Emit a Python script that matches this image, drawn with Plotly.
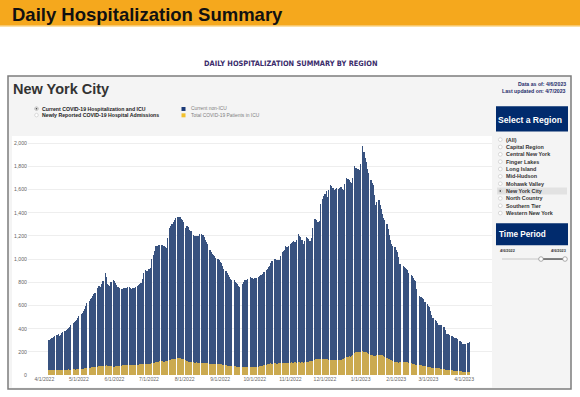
import plotly.graph_objects as go
import pandas as pd

# ---------------- data ----------------
start_date = "2022-04-05"
# daily totals (ICU + non-ICU); None = day without a bar (weekly gap)
total_hospitalized = [
    305, 312, 318, 320, 326, 334, None,
    345, 352, 340, 344, 365, 372, None,
    385, 392, 398, 405, 420, 435, None,
    448, 458, 470, 478, 492, 508, None,
    525, 540, 556, 575, 598, 622, None,
    640, 655, 668, 680, 698, 712, None,
    748, 768, 772, 764, 790, 810, None,
    885, 850, 790, 778, 770, 800, None,
    820, 812, 796, 780, 765, 752, None,
    745, 740, 750, 748, 755, 758, None,
    762, 750, 745, 748, 756, 762, None,
    772, 780, 788, 795, 830, 880, None,
    910, 900, 895, 915, 925, 1000, None,
    1040, 1075, 1110, 1115, 1120, 1125, None,
    1122, 1120, 1115, 1105, 1100, 1180, None,
    1270, 1285, 1300, 1320, 1340, 1355, None,
    1362, 1368, 1365, 1350, 1335, 1325, None,
    1270, 1285, 1278, 1250, 1246, 1243, None,
    1210, 1197, 1203, 1200, 1197, 1215, None,
    1220, 1205, 1191, 1170, 1150, 1134, None,
    1076, 1060, 1042, 1033, 1025, 1015, None,
    1005, 996, 980, 967, 940, 918, None,
    895, 880, 866, 846, 832, 825, None,
    817, 803, 795, 783, 770, 760, None,
    789, 800, 817, 820, 823, 830, None,
    846, 842, 838, 832, 835, 840, None,
    846, 855, 860, 865, 869, 889, None,
    909, 918, 932, 945, 967, 985, None,
    1004, 1000, 996, 993, 990, 1030, None,
    1062, 1075, 1082, 1111, 1105, 1115, None,
    1128, 1140, 1150, 1157, 1151, 1165, None,
    1214, 1200, 1191, 1163, 1128, 1160, None,
    1191, 1184, 1177, 1157, 1186, 1270, None,
    1350, 1345, 1341, 1321, 1330, 1480, None,
    1522, 1545, 1560, 1589, 1537, 1600, None,
    1638, 1630, 1617, 1600, 1610, 1617, None,
    1609, 1615, 1623, 1605, 1594, 1650, None,
    1703, 1695, 1686, 1666, 1658, 1700, None,
    1801, 1790, 1781, 1775, 1767, 1820, None,
    1974, 1925, 1876, 1839, 1781, 1740, None,
    1686, 1660, 1638, 1551, 1465, 1490, None,
    1508, 1470, 1436, 1393, 1360, 1335, None,
    1301, 1263, 1210, 1163, 1128, 1115, None,
    1105, 1080, 1062, 1019, 961, 955, None,
    945, 932, 925, 918, 903, 880, None,
    860, 852, 835, 817, 812, 745, None,
    679, 676, 673, 665, 659, 635, None,
    610, 595, 587, 553, 515, 495, None,
    478, 465, 449, 437, 429, 429, None,
    420, 414, 386, 357, 355, 351, None,
    340, 334, 328, 325, 322, 310, None,
    299, 294, 285, 271, 271, 271, None,
    276, 280, 285,
]
icu_patients = [
    46, 45, 44, 44, 43, 44, None,
    44, 45, 46, 47, 48, 47, None,
    48, 47, 49, 50, 48, 49, None,
    50, 51, 49, 52, 53, 51, None,
    54, 55, 57, 58, 60, 62, None,
    64, 66, 68, 70, 72, 74, None,
    75, 78, 76, 80, 82, 81, None,
    83, 85, 82, 80, 78, 76, None,
    72, 74, 76, 78, 80, 79, None,
    82, 84, 86, 85, 88, 90, None,
    88, 86, 89, 91, 90, 88, None,
    90, 92, 94, 93, 95, 96, None,
    95, 97, 98, 96, 99, 101, None,
    104, 108, 112, 115, 118, 120, None,
    120, 122, 118, 121, 124, 126, None,
    128, 132, 136, 138, 140, 142, None,
    145, 148, 146, 143, 140, 138, None,
    130, 124, 118, 115, 112, 110, None,
    110, 108, 111, 109, 107, 108, None,
    106, 104, 103, 102, 104, 101, None,
    100, 98, 99, 97, 96, 98, None,
    97, 96, 95, 93, 92, 90, None,
    85, 82, 80, 79, 78, 80, None,
    78, 76, 75, 74, 73, 72, None,
    72, 70, 71, 73, 72, 74, None,
    73, 72, 74, 75, 73, 72, None,
    74, 76, 78, 80, 82, 85, None,
    90, 94, 97, 100, 102, 100, None,
    101, 103, 100, 98, 102, 104, None,
    104, 106, 103, 105, 107, 106, None,
    108, 110, 107, 109, 111, 108, None,
    110, 112, 109, 111, 108, 110, None,
    112, 115, 118, 120, 122, 126, None,
    132, 136, 138, 140, 142, 140, None,
    138, 140, 142, 139, 137, 135, None,
    132, 130, 131, 129, 130, 132, None,
    131, 133, 135, 138, 142, 150, None,
    158, 160, 162, 161, 163, 170, None,
    195, 198, 200, 202, 199, 203, None,
    205, 203, 200, 196, 190, 182, None,
    172, 170, 168, 166, 168, 170, None,
    178, 176, 175, 172, 168, 160, None,
    145, 140, 136, 132, 128, 122, None,
    112, 110, 111, 108, 112, 114, None,
    116, 117, 115, 114, 112, 108, None,
    104, 100, 98, 95, 92, 90, None,
    88, 86, 85, 82, 80, 78, None,
    72, 70, 69, 68, 66, 64, None,
    62, 60, 61, 59, 58, 56, None,
    52, 50, 49, 48, 46, 44, None,
    42, 41, 40, 39, 38, 37, None,
    34, 33, 32, 31, 31, 30, None,
    30, 31, 30,
]
series_names = ["Current non-ICU", "Total COVID-19 Patients in ICU"]
tick_dates = ["2022-04-01", "2022-05-01", "2022-06-01", "2022-07-01", "2022-08-01",
              "2022-09-01", "2022-10-01", "2022-11-01", "2022-12-01", "2023-01-01",
              "2023-02-01", "2023-03-01", "2023-04-01"]
tick_labels = ["4/1/2022", "5/1/2022", "6/1/2022", "7/1/2022", "8/1/2022", "9/1/2022",
               "10/1/2022", "11/1/2022", "12/1/2022", "1/1/2023", "2/1/2023", "3/1/2023",
               "4/1/2023"]
y_tick_values = [0, 200, 400, 600, 800, 1000, 1200, 1400, 1600, 1800, 2000]
regions = ["(All)", "Capital Region", "Central New York", "Finger Lakes", "Long Island",
           "Mid-Hudson", "Mohawk Valley", "New York City", "North Country",
           "Southern Tier", "Western New York"]
selected_region = "New York City"
measure_options = ["Current COVID-19 Hospitalization and ICU",
                   "Newly Reported COVID-19 Hospital Admissions"]

# ---------------- figure ----------------
W, H = 580, 397
NAVY = "#012b6d"
BLUE = "rgba(56,82,127,0.999)"
GOLD = "rgba(203,170,80,0.999)"
FONT = "Liberation Sans, Arial, sans-serif"

dates = pd.date_range(start_date, periods=len(total_hospitalized), freq="D")
non_icu = [None if t is None else t - i for t, i in zip(total_hospitalized, icu_patients)]

def X(px):
    return px / W

def Y(py):
    return 1 - py / H

fig = go.Figure()
fig.add_trace(go.Bar(x=dates, y=icu_patients, name=series_names[1],
                     marker=dict(color=GOLD, line=dict(width=0))))
fig.add_trace(go.Bar(x=dates, y=non_icu, name=series_names[0],
                     marker=dict(color=BLUE, line=dict(width=0))))

shapes = []
def rect(x0, y0, x1, y1, fill, line=None, lw=0, layer="below"):
    shapes.append(dict(type="rect", xref="paper", yref="paper",
                       x0=X(x0), x1=X(x1), y0=Y(y1), y1=Y(y0),
                       fillcolor=fill, layer=layer,
                       line=dict(color=line or fill, width=lw)))

def circle(cx, cy, r, fill, line="#9a9a9a", lw=0.6, layer="above"):
    shapes.append(dict(type="circle", xref="paper", yref="paper",
                       x0=X(cx - r), x1=X(cx + r), y0=Y(cy + r), y1=Y(cy - r),
                       fillcolor=fill, layer=layer, line=dict(color=line, width=lw)))

# header band
rect(0, 0, 580, 26, "#f5a81d")
rect(0, 26, 580, 27.2, "#fbe0a6")
# dashboard frame
rect(8, 76.5, 571, 392, "#f4f4f4", line="#7c7c7c", lw=1.5)
# white chart panel
rect(12, 137, 492, 390.5, "#ffffff")
# right panel boxes
rect(496, 107, 568, 132.5, NAVY)
rect(497, 189, 567, 196, "#e2e2e2")
rect(496, 225, 568, 247, NAVY)
# slider
shapes.append(dict(type="line", xref="paper", yref="paper", x0=X(502), x1=X(565),
                   y0=Y(261), y1=Y(261), line=dict(color="#c8c8c8", width=1), layer="above"))
shapes.append(dict(type="line", xref="paper", yref="paper", x0=X(541), x1=X(565),
                   y0=Y(261), y1=Y(261), line=dict(color="#555555", width=1.4), layer="above"))
circle(541, 261, 2.3, "#ffffff", line="#888888", lw=0.7)
circle(565, 261, 2.3, "#ffffff", line="#888888", lw=0.7)
# measure radio buttons
circle(36.5, 109.5, 1.8, "#ffffff")
circle(36.5, 109.5, 0.7, "#444444", line="#444444", lw=0.3)
circle(36.5, 116, 1.8, "#ffffff", line="#c4c4c4")
# legend swatches
rect(181.5, 107.8, 185.5, 111.8, "#1b3a78", layer="above")
rect(181.5, 114.2, 185.5, 118.2, "#f2c12e", layer="above")

annotations = []
def text(x, y, s, size, color="#333333", anchor="left", bold=False, family=FONT):
    annotations.append(dict(x=X(x), y=Y(y), xref="paper", yref="paper", text=s,
                            showarrow=False, xanchor=anchor, yanchor="middle",
                            font=dict(size=size, color=color, family=family,
                                      weight="bold" if bold else "normal")))

text(10, 14.5, "Daily Hospitalization Summary", 18.5, color="#111111", bold=True)
text(290, 64, "DAILY HOSPITALIZATION SUMMARY BY REGION", 7.4, color="#3b2c6b", anchor="center",
     bold=True, family="DejaVu Sans Condensed, Liberation Sans Narrow, sans-serif")
text(11, 89.5, "New York City", 14.5, color="#333333", bold=True)
text(39.5, 109.5, measure_options[0], 5.2, color="#222222", bold=True)
text(39.5, 116, measure_options[1], 5.2, color="#222222", bold=True)
text(188.5, 109.8, series_names[0], 4.9, color="#808080")
text(188.5, 116.2, series_names[1], 4.9, color="#808080")
text(568, 85, "Data as of: 4/6/2023", 5.2, color="#1f2d6b", anchor="right", bold=True)
text(568, 91.5, "Last updated on: 4/7/2023", 5.2, color="#1f2d6b", anchor="right", bold=True)
text(496, 121, "Select a Region", 8.6, color="#ffffff", bold=True)
text(496.5, 236, "Time Period", 8.2, color="#ffffff", bold=True)
text(498, 253, "4/6/2022", 3.8, color="#333333", bold=True)
text(567.5, 253, "4/6/2023", 3.8, color="#333333", anchor="right", bold=True)

for k, name in enumerate(regions):
    cy = 140.7 + k * 7.4
    circle(500.3, cy, 1.9, "#ffffff", line="#b8b8b8", lw=0.5)
    if name == selected_region:
        circle(500.3, cy, 0.8, "#333333", line="#333333", lw=0.3)
    text(503.5, cy, name, 5.4, color="#333333", bold=True)

fig.update_layout(
    width=W, height=H, margin=dict(l=0, r=0, t=0, b=0),
    paper_bgcolor="#ffffff", plot_bgcolor="rgba(0,0,0,0)",
    barmode="stack", bargap=0, showlegend=False,
    shapes=shapes, annotations=annotations,
    font=dict(family=FONT),
    xaxis=dict(domain=[X(28), X(492)], type="date",
               range=["2022-03-17 19:00", "2023-04-25 07:00"],
               tickvals=tick_dates, ticktext=tick_labels,
               showgrid=False, zeroline=False, showline=False, ticks="",
               tickfont=dict(size=5.1, color="#666666")),
    yaxis=dict(domain=[Y(378), Y(140)], range=[0, 2037],
               tickvals=y_tick_values, tickformat=",",
               showgrid=True, gridcolor="#eeeeee", gridwidth=0.8,
               zeroline=False, showline=False, ticks="",
               tickfont=dict(size=5.2, color="#666666")),
)

fig.write_html("out.html",
               config={"displayModeBar": False},
               post_script="document.body.style.margin='0';document.body.style.padding='0';"
                           "document.body.style.overflow='hidden';")
